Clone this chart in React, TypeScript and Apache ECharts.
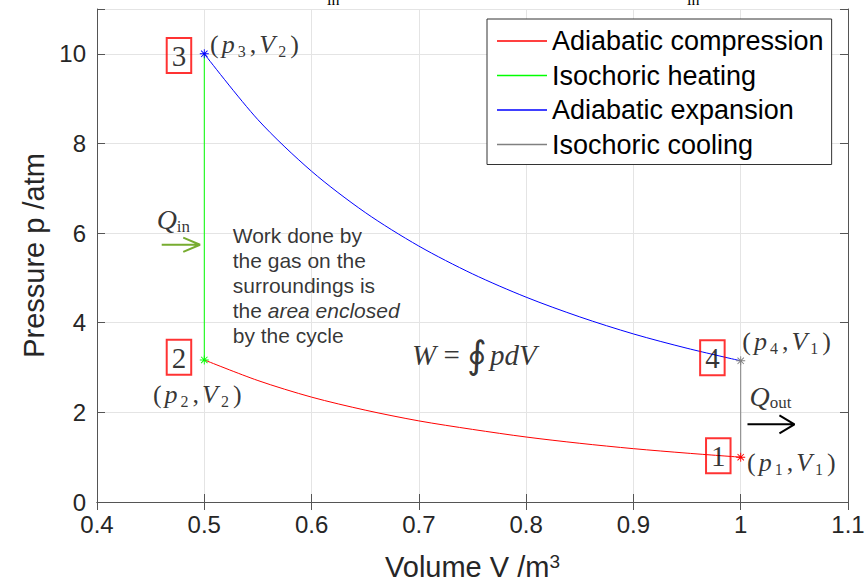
import React, { useEffect, useRef } from "react";
import * as echarts from "echarts";

// Otto cycle on a p–V diagram (pressure in atm, volume in m^3)
const V_COMPRESSION = [1.0, 0.95, 0.9, 0.85, 0.8, 0.75, 0.7, 0.65, 0.6, 0.55, 0.5];
const P_COMPRESSION = [1.0, 1.09, 1.19, 1.31, 1.45, 1.62, 1.81, 2.05, 2.34, 2.71, 3.17];

const V_HEATING = [0.5, 0.5];
const P_HEATING = [3.17, 10.0];

const V_EXPANSION = [0.5, 0.55, 0.6, 0.65, 0.7, 0.75, 0.8, 0.85, 0.9, 0.95, 1.0];
const P_EXPANSION = [10.0, 8.53, 7.38, 6.46, 5.71, 5.09, 4.57, 4.13, 3.75, 3.43, 3.15];

const V_COOLING = [1.0, 1.0];
const P_COOLING = [3.15, 1.0];

const SERIES_NAMES = [
  "Adiabatic compression",
  "Isochoric heating",
  "Adiabatic expansion",
  "Isochoric cooling",
];
const SERIES_COLORS = ["#ff0000", "#00ff00", "#0000ff", "#808080"];

const X_MIN = 0.4;
const X_MAX = 1.1;
const X_STEP = 0.1;
const Y_MIN = 0;
const Y_MAX = 11;
const Y_STEP = 2;

const SANS = '"Liberation Sans", Arial, Helvetica, sans-serif';
const SERIF = '"Liberation Serif", "Times New Roman", "DejaVu Serif", serif';

// eight-pointed asterisk marker
const ASTERISK =
  "path://M9,0H11V20H9Z M0,9H20V11H0Z M2.2,3.6L3.6,2.2L17.8,16.4L16.4,17.8Z M16.4,2.2L17.8,3.6L3.6,17.8L2.2,16.4Z";

function curve(vs: number[], ps: number[]) {
  return vs.map((v, i) =>
    i === 0 ? { value: [v, ps[i]], symbol: ASTERISK, symbolSize: 9 } : { value: [v, ps[i]] }
  );
}

const stateRich = {
  pr: { fontFamily: SERIF, fontSize: 26, color: "#000", lineHeight: 30, padding: [0, 1, 0, 1] },
  it: { fontFamily: SERIF, fontSize: 26, fontStyle: "italic", color: "#000", lineHeight: 30, padding: [0, 3, 0, 2] },
  sub: { fontFamily: SERIF, fontSize: 16, color: "#000", verticalAlign: "bottom", lineHeight: 18, padding: [0, 3, 0, 0] },
};

function stateLabel(p: string, v: string) {
  return `{pr|(}{it|p}{sub|${p}}{pr|,}{it|V}{sub|${v}}{pr|)}`;
}

const boxStyle = {
  fontFamily: SERIF,
  fontSize: 29,
  color: "#000",
  lineHeight: 30,
  borderColor: "#ff0000",
  borderWidth: 2,
  padding: [3, 5, 2, 5],
};

type Note = { at: [number, number]; text: string; align: string; style?: any };

const NOTES: Note[] = [
  { at: [0.4764, 9.96], text: "3", align: "center", style: boxStyle },
  { at: [0.4764, 3.23], text: "2", align: "center", style: boxStyle },
  { at: [0.9736, 3.22], text: "4", align: "center", style: boxStyle },
  { at: [0.9791, 1.03], text: "1", align: "center", style: boxStyle },
  { at: [0.5045, 10.2], text: stateLabel("3", "2"), align: "left" },
  { at: [0.4935, 2.4], text: stateLabel("2", "2"), align: "center" },
  { at: [1.0005, 3.58], text: stateLabel("4", "1"), align: "left" },
  { at: [1.005, 0.88], text: stateLabel("1", "1"), align: "left" },
  { at: [0.4556, 6.3], text: "{q|Q}{qs|in}", align: "left" },
  { at: [1.0082, 2.36], text: "{q|Q}{qs|out}", align: "left" },
  {
    at: [0.5265, 4.83],
    text: "Work done by\nthe gas on the\nsurroundings is\nthe {i|area enclosed}\nby the cycle",
    align: "left",
    style: { fontFamily: SANS, fontSize: 21, lineHeight: 25, color: "#000" },
  },
  { at: [0.6936, 3.27], text: "{w|W}{eq| = }{int|∮}{w|pdV}", align: "left" },
];

// heat flow arrows, drawn as open chevrons
const ARROW_IN = [
  [0.4603, 5.74],
  [0.496, 5.74],
  [0.4804, 5.9],
  [0.496, 5.74],
  [0.4804, 5.58],
];
const ARROW_OUT = [
  [1.0063, 1.733],
  [1.0501, 1.733],
  [1.0361, 1.934],
  [1.0501, 1.733],
  [1.0361, 1.532],
];

export default function App() {
  const ref = useRef<HTMLDivElement>(null);

  useEffect(() => {
    if (!ref.current) return;
    const chart = echarts.init(ref.current, undefined, { renderer: "svg" });

    const axisColor = "#555555";
    const tickLabel = { fontFamily: SANS, fontSize: 24, color: "#262626" };

    const cycleSeries = [
      [V_COMPRESSION, P_COMPRESSION],
      [V_HEATING, P_HEATING],
      [V_EXPANSION, P_EXPANSION],
      [V_COOLING, P_COOLING],
    ].map(([vs, ps], i) => ({
      name: SERIES_NAMES[i],
      type: "line",
      color: SERIES_COLORS[i],
      data: curve(vs, ps),
      symbol: "none",
      showSymbol: true,
      smooth: i % 2 === 0 ? 0.3 : false,
      lineStyle: { width: 1, color: SERIES_COLORS[i] },
      itemStyle: { color: SERIES_COLORS[i] },
      silent: true,
      z: 3,
    }));

    const option: any = {
      animation: false,
      backgroundColor: "#ffffff",
      grid: { left: 97, right: 18, top: 9, bottom: 83, containLabel: false, outerBoundsMode: "none" },
      xAxis: [
        {
          type: "value",
          position: "bottom",
          min: X_MIN,
          max: X_MAX,
          interval: X_STEP,
          name: "Volume V /m{sup|3}",
          nameLocation: "middle",
          nameGap: 50,
          nameTextStyle: {
            fontFamily: SANS,
            fontSize: 29,
            color: "#262626",
            lineHeight: 30,
            rich: {
              sup: { fontFamily: SANS, fontSize: 19, color: "#262626", verticalAlign: "top", lineHeight: 20 },
            },
          },
          axisLine: { show: true, lineStyle: { color: axisColor, width: 1 } },
          axisTick: { show: true, inside: true, length: 8, lineStyle: { color: axisColor } },
          axisLabel: {
            ...tickLabel,
            margin: 10,
            formatter: (v: number) => String(+v.toFixed(1)),
          },
          splitLine: { show: true, lineStyle: { color: "#e4e4e4", width: 1 } },
        },
        {
          type: "value",
          position: "top",
          min: X_MIN,
          max: X_MAX,
          interval: X_STEP,
          axisLine: { show: true, lineStyle: { color: axisColor, width: 1 } },
          axisTick: { show: true, inside: true, length: 8, lineStyle: { color: axisColor } },
          axisLabel: { show: false },
          splitLine: { show: false },
        },
      ],
      yAxis: [
        {
          type: "value",
          position: "left",
          min: Y_MIN,
          max: Y_MAX,
          interval: Y_STEP,
          name: "Pressure p /atm",
          nameLocation: "middle",
          nameGap: 48,
          nameTextStyle: { fontFamily: SANS, fontSize: 29, color: "#262626" },
          axisLine: { show: true, lineStyle: { color: axisColor, width: 1 } },
          axisTick: { show: true, inside: true, length: 8, lineStyle: { color: axisColor } },
          axisLabel: {
            ...tickLabel,
            margin: 11,
            formatter: (v: number) => (v > 10 ? "" : String(v)),
          },
          splitLine: { show: true, lineStyle: { color: "#e4e4e4", width: 1 } },
        },
        {
          type: "value",
          position: "right",
          min: Y_MIN,
          max: Y_MAX,
          interval: Y_STEP,
          axisLine: { show: true, lineStyle: { color: axisColor, width: 1 } },
          axisTick: { show: true, inside: true, length: 8, lineStyle: { color: axisColor } },
          axisLabel: { show: false },
          splitLine: { show: false },
        },
      ],
      legend: {
        data: SERIES_NAMES,
        orient: "vertical",
        left: 487,
        top: 19,
        padding: [8, 8, 6, 10],
        itemWidth: 50,
        itemHeight: 1.5,
        icon: "rect",
        itemGap: 6.5,
        backgroundColor: "#ffffff",
        borderColor: "#333333",
        borderWidth: 1,
        selectedMode: false,
        textStyle: { fontFamily: SANS, fontSize: 27, lineHeight: 28, color: "#000" },
      },
      // subscripts of a heading that sits above the visible area
      graphic: [
        { type: "text", left: 327, top: -9, style: { text: "in", font: `16px ${SERIF}`, fill: "#000" } },
        { type: "text", left: 687, top: -9, style: { text: "in", font: `16px ${SERIF}`, fill: "#000" } },
      ],
      series: [
        ...cycleSeries,
        {
          name: "heat in",
          type: "line",
          data: ARROW_IN,
          symbol: "none",
          color: "#77ac30",
          lineStyle: { width: 2, color: "#77ac30" },
          silent: true,
          z: 4,
        },
        {
          name: "heat out",
          type: "line",
          data: ARROW_OUT,
          symbol: "none",
          color: "#000000",
          lineStyle: { width: 2, color: "#000000" },
          silent: true,
          z: 4,
        },
        {
          name: "notes",
          type: "scatter",
          symbol: "circle",
          symbolSize: 0,
          silent: true,
          clip: false,
          z: 5,
          data: NOTES.map((n) => ({
            value: n.at,
            label: {
              show: true,
              position: "inside",
              align: n.align,
              verticalAlign: "middle",
              formatter: n.text,
              color: "#000",
              ...(n.style || {}),
              rich: {
                ...stateRich,
                q: { fontFamily: SERIF, fontSize: 28, fontStyle: "italic", color: "#000", lineHeight: 30 },
                qs: { fontFamily: SERIF, fontSize: 17, color: "#000", verticalAlign: "bottom", lineHeight: 20 },
                i: { fontFamily: SANS, fontSize: 21, fontStyle: "italic", color: "#000", lineHeight: 25 },
                w: { fontFamily: SERIF, fontSize: 29, fontStyle: "italic", color: "#000", lineHeight: 36 },
                eq: { fontFamily: SERIF, fontSize: 29, color: "#000", lineHeight: 36 },
                int: { fontFamily: SERIF, fontSize: 38, color: "#000", lineHeight: 38, padding: [0, 3, 0, 0] },
              },
            },
          })),
        },
      ],
    };

    chart.setOption(option);
    return () => chart.dispose();
  }, []);

  return (
    <div
      ref={ref}
      style={{ position: "fixed", left: 0, top: 0, width: 866, height: 585, background: "#fff" }}
    />
  );
}
